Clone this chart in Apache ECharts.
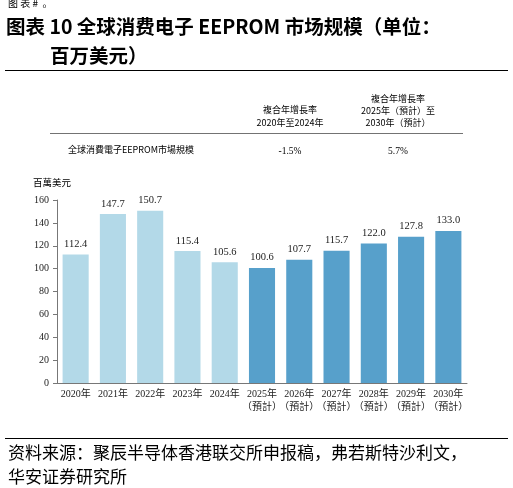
<!DOCTYPE html>
<html><head><meta charset="utf-8">
<script src="https://cdn.jsdelivr.net/npm/echarts@6/dist/echarts.min.js"></script>
<style>html,body{margin:0;padding:0;background:#fff}#c{width:513px;height:488px}</style>
</head><body><div id="c"></div>
<script>
const categories = ['2020年','2021年','2022年','2023年','2024年','2025年\n（預計）','2026年\n（預計）','2027年\n（預計）','2028年\n（預計）','2029年\n（預計）','2030年\n（預計）'];
const values = [112.4,147.7,150.7,115.4,105.6,100.6,107.7,115.7,122.0,127.8,133.0];
const forecastStart = 5;
const yTicks = [0,20,40,60,80,100,120,140,160];
const serif = '"Liberation Serif","Noto Sans CJK TC",serif';
const cjk = '"Noto Sans CJK SC",sans-serif';
const chart = echarts.init(document.getElementById('c'));
function t(x,y,text,font,size,weight,align){
  return {type:'text',x:x,y:y,style:{text:text,font:(weight||'normal')+' '+size+'px '+font,fill:'#000',textAlign:align||'left',textVerticalAlign:'middle'}};
}
chart.setOption({
  animation:false,
  grid:{left:57,right:46,top:200,bottom:105},
  xAxis:{type:'category',data:categories,axisTick:{show:false},
    axisLine:{lineStyle:{color:'#777'}},
    axisLabel:{interval:0,fontFamily:serif,fontSize:10,color:'#222',lineHeight:13,margin:5}},
  yAxis:{type:'value',min:0,max:160,interval:20,splitLine:{show:false},
    axisLine:{show:true,lineStyle:{color:'#777'}},axisTick:{show:true,length:4,lineStyle:{color:'#777'}},
    axisLabel:{fontFamily:serif,fontSize:10,color:'#222',margin:8}},
  series:[{type:'bar',data:values.map((v,i)=>({value:v,itemStyle:{color:i<forecastStart?'#B3D9E8':'#57A0CB'}})),
    barCategoryGap:'30%',
    label:{show:true,position:'top',fontFamily:serif,fontSize:10.5,color:'#222',formatter:p=>p.value.toFixed(1)}}],
  graphic:[
    t(8,3,'图 表 #  。',cjk,10,'normal'),
    t(6,27,'图表 10 全球消费电子 EEPROM 市场规模（单位：',cjk,19.5,'bold'),
    t(50,56,'百万美元）',cjk,19.5,'bold'),
    {type:'rect',shape:{x:5,y:70,width:503,height:1},style:{fill:'#000'}},
    t(290,110,'複合年增長率',cjk,9,'normal','center'),
    t(290,123,'2020年至2024年',cjk,9,'normal','center'),
    t(398,99,'複合年增長率',cjk,9,'normal','center'),
    t(398,111,'2025年（預計）至',cjk,9,'normal','center'),
    t(398,123,'2030年（預計）',cjk,9,'normal','center'),
    {type:'rect',shape:{x:50,y:133,width:413,height:0.8},style:{fill:'#444'}},
    t(68,150,'全球消費電子EEPROM市場規模',cjk,9,'normal'),
    t(290,151,'-1.5%',serif,9.5,'normal','center'),
    t(398,151,'5.7%',serif,9.5,'normal','center'),
    t(33,182,'百萬美元',cjk,9.5,'normal'),
    {type:'rect',shape:{x:5,y:438,width:503,height:1},style:{fill:'#000'}},
    t(8,453,'资料来源：聚辰半导体香港联交所申报稿，弗若斯特沙利文，',cjk,17,'normal'),
    t(8,477,'华安证券研究所',cjk,17,'normal')
  ]
});
</script></body></html>
